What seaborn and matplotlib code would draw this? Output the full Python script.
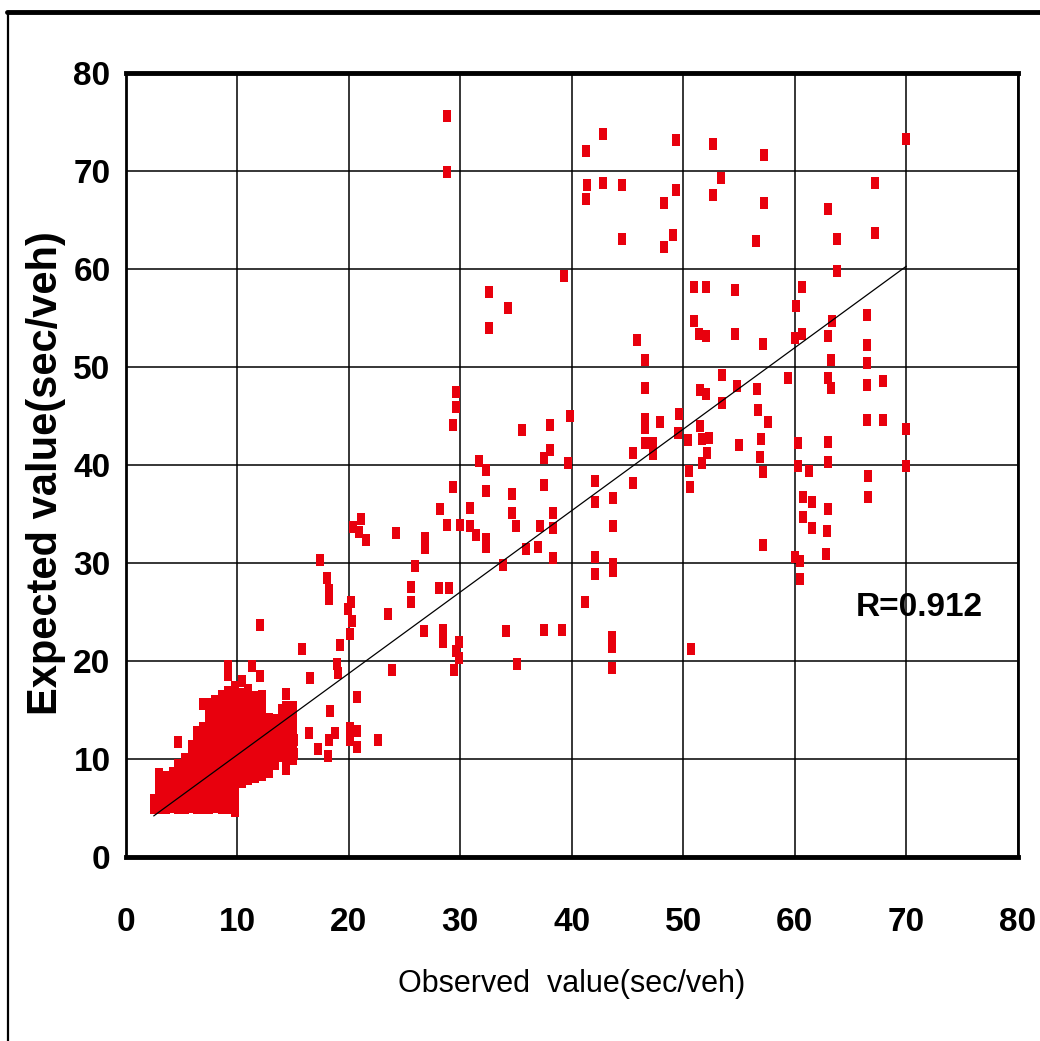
import matplotlib
matplotlib.use("Agg")
import matplotlib.pyplot as plt
from matplotlib.lines import Line2D
import numpy as np
import pandas as pd
import seaborn as sns

# Scattered observations (observed delay, expected delay), sec/veh
observed = [
    28.8, 28.8, 42.8, 41.3, 49.3, 52.7, 57.2, 70.0, 41.4, 42.8, 44.5, 41.3, 49.3, 48.3,
    53.4, 52.7, 57.2, 67.2, 44.5, 49.1, 48.3, 56.5, 63.0, 67.2, 63.8, 39.3, 32.6, 32.6,
    34.3, 51.0, 52.0, 54.6, 60.6, 63.8, 60.1,
    51.0, 51.4, 52.0, 54.6, 57.1, 60.0, 60.6, 63.0, 45.8, 46.6, 66.5, 63.3, 66.5, 63.2,
    66.5, 53.5, 54.8, 56.6, 59.4, 63.0, 63.2, 66.5, 67.9, 46.6, 51.5, 52.0, 53.5, 56.7,
    57.6, 49.6, 46.6, 46.6, 47.9, 39.8, 29.6, 29.6, 29.3, 35.5, 38.0,
    49.5, 50.4, 51.5, 51.7, 52.3, 55.0, 57.0, 46.6, 47.3, 47.3, 45.5, 52.1, 51.7, 56.9,
    57.1, 39.7, 60.3, 60.3, 61.3, 63.0, 63.0, 66.5, 67.9, 70.0, 70.0, 66.6, 66.6, 60.7,
    61.5, 63.0, 60.7, 61.5, 62.9, 62.8, 60.0, 60.5, 60.5, 50.5, 50.6, 42.1, 42.1, 43.7,
    45.5, 43.7, 42.1, 42.1, 43.7, 43.7, 57.1, 38.0, 37.5, 31.7, 32.3, 29.3, 32.3, 34.6,
    37.5, 28.2, 30.9, 34.6, 38.3,
    20.4, 21.1, 20.9, 21.5, 24.2, 26.8, 26.8, 28.8, 30.0, 30.9, 31.4, 32.3, 32.3, 35.0,
    37.1, 38.3, 35.9, 37.0, 38.3, 33.8, 41.2, 34.1, 37.5, 39.1, 43.6, 43.6, 43.6, 50.7,
    29.9, 29.6, 29.9, 29.4, 35.1, 26.7, 28.4, 28.4, 23.9, 25.6, 25.6, 25.9, 23.5, 28.1,
    29.0, 17.4, 18.0, 18.2, 18.2, 19.9, 20.2, 20.3, 20.1, 15.8, 19.2, 18.9, 19.0, 16.5,
    20.7, 18.3, 20.1, 20.7, 20.1, 20.7, 22.6, 16.4, 17.2, 18.8, 18.2, 18.1, 15.1, 15.1,
    12.0,
]
expected = [
    75.6, 69.9, 73.8, 72.0, 73.2, 72.8, 71.6, 73.3, 68.6, 68.8, 68.6, 67.1, 68.1, 66.7,
    69.3, 67.5, 66.7, 68.8, 63.1, 63.5, 62.2, 62.9, 66.1, 63.7, 63.1, 59.3, 57.6, 54.0,
    56.0, 58.2, 58.2, 57.9, 58.2, 59.8, 56.2,
    54.7, 53.4, 53.2, 53.4, 52.3, 53.0, 53.4, 53.2, 52.8, 50.7, 55.3, 54.7, 52.2, 50.7,
    50.4, 49.2, 48.1, 47.8, 48.9, 48.9, 47.9, 48.2, 48.6, 47.9, 47.6, 47.2, 46.3, 45.6,
    44.4, 45.2, 44.7, 43.8, 44.4, 45.0, 47.4, 45.9, 44.1, 43.6, 44.1,
    43.3, 42.5, 44.0, 42.6, 42.8, 42.0, 42.7, 42.2, 42.2, 41.1, 41.2, 41.2, 40.2, 40.8,
    39.3, 40.2, 42.2, 39.9, 39.4, 42.3, 40.3, 44.6, 44.6, 43.7, 39.9, 38.9, 36.7, 36.7,
    36.2, 35.5, 34.7, 33.6, 33.3, 30.9, 30.6, 30.2, 28.4, 39.4, 37.8, 38.4, 36.2, 36.6,
    38.2, 33.8, 30.6, 28.9, 29.9, 29.2, 31.8, 41.5, 40.7, 40.4, 39.5, 37.8, 37.3, 37.0,
    38.0, 35.5, 35.6, 35.1, 35.1,
    33.7, 34.5, 33.2, 32.3, 33.1, 32.5, 31.5, 33.9, 33.9, 33.8, 32.9, 32.4, 31.6, 33.8,
    33.8, 33.6, 31.4, 31.6, 30.5, 29.8, 26.0, 23.1, 23.2, 23.2, 22.4, 21.4, 19.3, 21.2,
    21.9, 21.0, 20.3, 19.1, 19.7, 23.1, 23.2, 21.9, 19.1, 27.5, 26.0, 29.7, 24.8, 27.4,
    27.4, 30.3, 28.5, 27.2, 26.3, 25.3, 26.0, 24.1, 22.8, 21.2, 21.6, 19.7, 18.8, 18.3,
    16.3, 14.9, 13.2, 12.9, 11.9, 11.2, 11.9, 12.6, 11.0, 12.6, 11.9, 10.3, 11.9, 10.5,
    23.7,
]

# Dense low-delay group, listed column by column (observed value, expected values)
dense_observed = [2.5, 3.0, 3.6, 4.2, 4.7, 5.3, 5.9, 6.4, 6.9, 7.5, 8.0, 8.6, 9.2, 9.8,
                  10.4, 11.0, 11.3, 11.6, 12.0, 12.2, 12.8, 13.4, 14.0, 14.4, 15.0]
dense_expected = [
    [5.0, 5.8],
    [5.0, 5.9, 6.8, 7.6, 8.5],
    [5.0, 5.8, 6.7, 7.5, 8.2],
    [5.1, 6.0, 6.8, 7.7, 8.6],
    [5.0, 5.9, 6.7, 7.6, 8.5, 9.4, 11.7],
    [5.0, 5.8, 6.6, 7.5, 8.4, 9.3, 10.0],
    [5.1, 6.0, 6.9, 7.8, 8.7, 9.6, 10.5, 11.3],
    [5.0, 5.8, 6.7, 7.6, 8.5, 9.4, 10.3, 11.2, 12.1, 12.8],
    [5.0, 5.9, 6.8, 7.7, 8.6, 9.5, 10.4, 11.3, 12.2, 13.2, 15.6],
    [5.0, 5.9, 6.8, 7.7, 8.6, 9.5, 10.4, 11.3, 12.2, 13.1, 14.0, 14.9, 15.6],
    [5.1, 6.0, 6.9, 7.8, 8.7, 9.6, 10.5, 11.4, 12.3, 13.2, 14.1, 15.0, 15.9],
    [5.0, 5.9, 6.8, 7.7, 8.6, 9.5, 10.4, 11.3, 12.2, 13.1, 14.0, 14.9, 15.8, 16.4],
    [5.0, 5.9, 6.8, 7.7, 8.6, 9.5, 10.4, 11.3, 12.2, 13.1, 14.0, 14.9, 15.8, 16.8, 18.6, 19.5],
    [4.7, 5.6, 6.5, 7.4, 8.3, 9.2, 10.1, 11.0, 11.9, 12.8, 13.7, 14.6, 15.5, 16.4, 17.3],
    [7.6, 8.5, 9.4, 10.3, 11.2, 12.1, 13.0, 13.9, 14.8, 15.7, 16.6, 18.0],
    [8.0, 8.9, 9.8, 10.7, 11.6, 12.5, 13.4, 14.3, 15.2, 16.1, 17.0],
    [19.5],
    [8.2, 9.1, 10.0, 10.9, 11.8, 12.7, 13.6, 14.5, 15.4, 16.3],
    [18.5],
    [8.4, 9.3, 10.2, 11.1, 12.0, 12.9, 13.8, 14.7, 15.6, 16.4],
    [8.7, 9.6, 10.5, 11.4, 12.3, 13.2, 14.1],
    [9.5, 10.4, 11.3, 12.2, 13.1, 14.0],
    [10.3, 11.2, 12.1, 13.0, 14.0, 15.0],
    [9.0, 9.9, 10.8, 11.7, 12.6, 13.5, 14.4, 15.3, 16.6],
    [10.0, 10.9, 11.8, 12.7, 13.6, 14.5, 15.3],
]

# Fitted line: expected = intercept + slope * observed
trend_slope = 0.831
trend_intercept = 2.11
correlation_r = "0.912"

axis_ticks = [0, 10, 20, 30, 40, 50, 60, 70, 80]

obs_all = list(observed)
exp_all = list(expected)
for xv, ys in zip(dense_observed, dense_expected):
    obs_all.extend([xv] * len(ys))
    exp_all.extend(ys)
df = pd.DataFrame({"Observed": obs_all, "Expected": exp_all})

sns.set_style("white")
plt.rcParams["font.family"] = ["Liberation Sans", "DejaVu Sans"]
plt.rcParams["text.color"] = "black"
plt.rcParams["axes.labelcolor"] = "black"
plt.rcParams["xtick.color"] = "black"
plt.rcParams["ytick.color"] = "black"

fig = plt.figure(figsize=(10.4, 10.41), dpi=100)
ax = fig.add_axes([0.121, 0.1768, 0.8577, 0.7531])

# tall rectangular marker
rect_marker = [(-0.33, -0.5), (0.33, -0.5), (0.33, 0.5), (-0.33, 0.5), (-0.33, -0.5)]
sns.scatterplot(data=df, x="Observed", y="Expected", ax=ax, marker=rect_marker,
                s=85, color="#e8000d", linewidth=0, zorder=3)

x_fit = np.array([min(obs_all), max(obs_all)])
fit_df = pd.DataFrame({"Observed": x_fit, "Expected": trend_intercept + trend_slope * x_fit})
sns.lineplot(data=fit_df, x="Observed", y="Expected", ax=ax, color="black",
             linewidth=0.9, zorder=4)

ax.set_xlim(0, 80)
ax.set_ylim(0, 80)
ax.set_xticks(axis_ticks)
ax.set_yticks(axis_ticks)
ax.set_xticklabels([str(t) for t in axis_ticks], fontsize=24, fontweight="bold")
ax.set_yticklabels([str(t) for t in axis_ticks], fontsize=24, fontweight="bold")
ax.tick_params(axis="x", length=0, pad=36)
ax.tick_params(axis="y", length=0, pad=11)

ax.grid(True, color="black", linewidth=1.1)
ax.set_axisbelow(True)
for side in ["top", "bottom"]:
    ax.spines[side].set_linewidth(3.5)
    ax.spines[side].set_color("black")
for side in ["left", "right"]:
    ax.spines[side].set_linewidth(2.0)
    ax.spines[side].set_color("black")

ax.set_xlabel("Observed  value(sec/veh)", fontsize=22, labelpad=22)
ax.set_ylabel("Expected value(sec/veh)", fontsize=30, fontweight="bold", labelpad=-3)
ax.yaxis.set_label_coords(-0.067, 0.49)

ax.text(65.5, 25.5, "R=" + correlation_r, fontsize=24, fontweight="bold",
        ha="left", va="center", zorder=5)

# outer frame lines
fig.add_artist(Line2D([0.007, 1.0], [0.9885, 0.9885], color="black", linewidth=3.5,
                      transform=fig.transFigure))
fig.add_artist(Line2D([0.0078, 0.0078], [0.0, 0.9885], color="black", linewidth=1.6,
                      transform=fig.transFigure))

fig.savefig("out.png", dpi=100)
